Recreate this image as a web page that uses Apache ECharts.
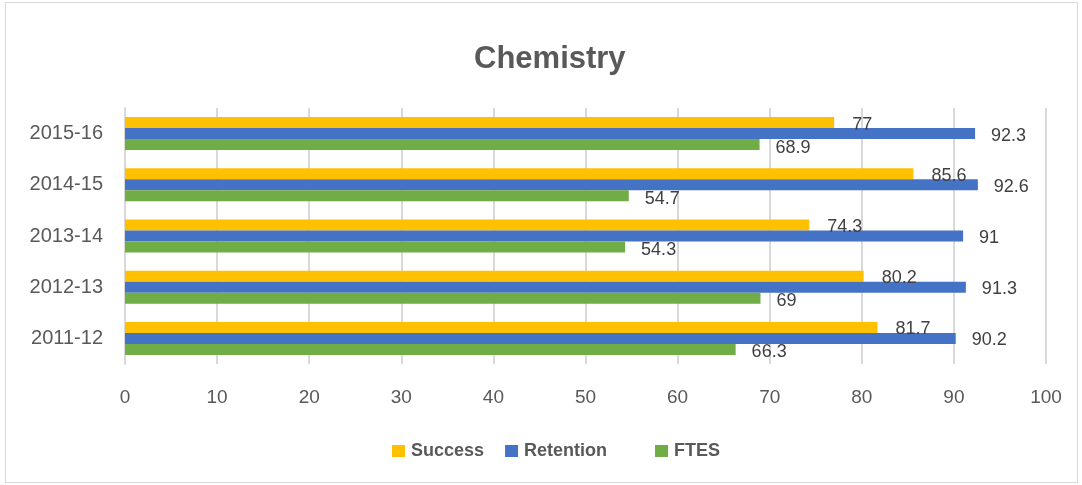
<!DOCTYPE html>
<html style="height: 100%">
  <head>
    <meta charset="utf-8" />
    <title>Chemistry</title>
    <script src="https://cdn.jsdelivr.net/npm/echarts@6/dist/echarts.min.js"></script>
  </head>
  <body style="height: 100%; margin: 0; background: #fff">
    <div id="main" style="position: absolute; left: 5px; top: 2px; width: 1073px; height: 481px; border: 1px solid #d9d9d9; box-sizing: border-box"></div>
    <script type="text/javascript">
      var years = ["2011-12", "2012-13", "2013-14", "2014-15", "2015-16"];
      var success = [81.7, 80.2, 74.3, 85.6, 77];
      var retention = [90.2, 91.3, 91, 92.6, 92.3];
      var ftes = [66.3, 69, 54.3, 54.7, 68.9];

      var myChart = echarts.init(document.getElementById("main"));
      var font = "Liberation Sans, Arial, sans-serif";

      // 数据标签放在柱子右侧
      function lbl(dist, dy) {
        return {
          show: true,
          position: "right",
          distance: dist,
          offset: [0, dy],
          color: "#404040",
          fontSize: 18,
          fontFamily: font,
        };
      }

      // 图例分成两段, 间距跟原图对齐
      function legendAt(names, left) {
        return {
          data: names,
          top: 434,
          left: left,
          itemWidth: 13,
          itemHeight: 12,
          itemGap: 21,
          icon: "rect",
          textStyle: { color: "#595959", fontSize: 18, fontWeight: "bold", fontFamily: font, padding: [0, 0, 0, 1] },
        };
      }

      var option = {
        animation: false,
        title: {
          text: "Chemistry",
          left: 463,
          top: 36,
          textStyle: { color: "#595959", fontSize: 31, fontWeight: "bold", fontFamily: font },
        },
        legend: [legendAt(["Success", "Retention"], 381), legendAt(["FTES"], 644)],
        grid: { left: 119, right: 31, top: 105, bottom: 118 },
        xAxis: {
          type: "value",
          min: 0,
          max: 100,
          interval: 10,
          axisLine: { show: false },
          axisTick: { show: false },
          splitLine: { lineStyle: { color: "#d9d9d9", width: 2 } },
          axisLabel: { color: "#595959", fontSize: 19, fontFamily: font, margin: 24 },
        },
        yAxis: {
          type: "category",
          data: years,
          axisLine: { lineStyle: { color: "#d9d9d9", width: 2 } },
          axisTick: { show: false },
          axisLabel: { color: "#595959", fontSize: 20, fontFamily: font, margin: 22 },
        },
        series: [
          { name: "Success", type: "bar", data: success, itemStyle: { color: "#FFC000" }, barWidth: 11, barGap: "0%", barCategoryGap: "36%", label: lbl(18, 2) },
          { name: "Retention", type: "bar", data: retention, itemStyle: { color: "#4472C4" }, barWidth: 11, barGap: "0%", label: lbl(16, 2) },
          { name: "FTES", type: "bar", data: ftes, itemStyle: { color: "#70AD47" }, barWidth: 11, barGap: "0%", label: lbl(16, 3) },
        ],
      };

      myChart.setOption(option);
    </script>
  </body>
</html>
